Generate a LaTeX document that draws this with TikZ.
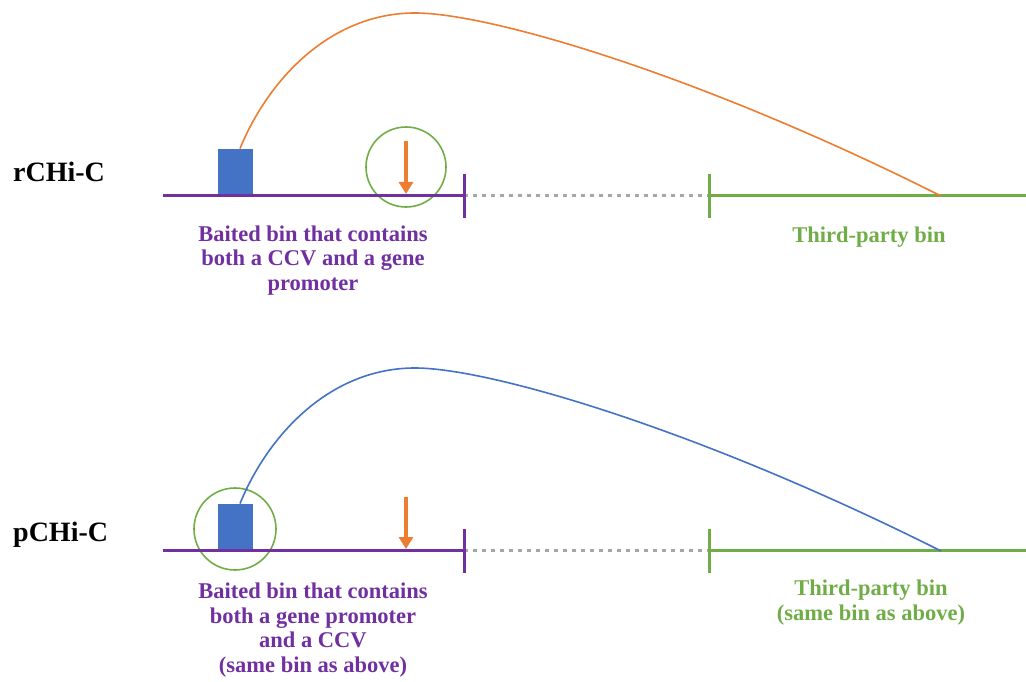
\documentclass[tikz,border=0pt]{standalone}
\usepackage{fontspec}
\setmainfont{Liberation Serif}
\usetikzlibrary{arrows.meta,calc}
\definecolor{binpurple}{HTML}{7030A0}
\definecolor{bingreen}{HTML}{70AD47}
\definecolor{ccvorange}{HTML}{ED7D31}
\definecolor{promblue}{HTML}{4472C4}
\definecolor{gapgray}{HTML}{A6A6A6}
\begin{document}
\begin{tikzpicture}[x=1pt,y=-1pt,
  baitline/.style={binpurple,line width=3.8pt},
  thirdline/.style={bingreen,line width=3.8pt},
  tickmark/.style={line width=3pt},
  gapline/.style={gapgray,line width=3.5pt,dash pattern=on 3.5pt off 5.5pt},
  promoter/.style={fill=promblue,draw=none,minimum width=35pt,minimum height=45pt,inner sep=0pt,anchor=south},
  focus/.style={circle,draw=bingreen,line width=1.6pt,minimum size=80pt,inner sep=0pt},
  ccv/.style={ccvorange,line width=4.5pt,-{Triangle[width=14pt,length=12pt]}},
  rowlabel/.style={font=\fontsize{28}{30}\selectfont\bfseries,anchor=base west,inner sep=0pt},
  % multi-line labels are anchored at the baseline of their last line
  binlabel/.style={font=\fontsize{22.5}{24.5}\selectfont\bfseries,align=center,anchor=base,inner sep=0pt},
  contact/.style={line width=1.6pt}
]
\useasboundingbox (0,0) rectangle (1026,682);

% ---------- rCHi-C row ----------
\node[rowlabel] (r1) at (13,182) {rCHi-C};
\node[focus] (c1) at (406,167) {};
\coordinate (a1) at (163,195.5);
\coordinate (b1) at (464,195.5);
\coordinate (b1t) at (464,174);
\coordinate (b1b) at (464,218);
\coordinate (g1) at (709,195.5);
\coordinate (g1t) at (709,174);
\coordinate (g1b) at (709,218);
\coordinate (e1) at (1026,195.5);
\coordinate (t1) at (941,196);
\draw[gapline] (b1) -- (g1);
\draw[baitline] (a1) -- (b1);
\draw[binpurple,tickmark] (b1t) -- (b1b);
\draw[thirdline] (g1) -- (e1);
\draw[bingreen,tickmark] (g1t) -- (g1b);
\node[promoter] (p1) at (235.5,194) {};
\coordinate (v1t) at (406,141);
\coordinate (v1) at (406,194);
\draw[ccv] (v1t) -- (v1);
\draw[contact,ccvorange] ($(p1.north)+(4.5,0)$) .. controls (268,80) and (330,13) .. (415,13)
  .. controls (490,13) and (700,75) .. (t1);
\node[binlabel,binpurple] (l1) at (313,290) {Baited bin that contains\\both a CCV and a gene\\promoter};
\node[binlabel,bingreen] (l1g) at (869,242) {Third-party bin};

% ---------- pCHi-C row ----------
\node[rowlabel] (r2) at (13,541) {pCHi-C};
\node[focus,minimum size=82pt] (c2) at (235,529) {};
\coordinate (a2) at (163,550.5);
\coordinate (b2) at (464,550.5);
\coordinate (b2t) at (464,529);
\coordinate (b2b) at (464,573);
\coordinate (g2) at (709,550.5);
\coordinate (g2t) at (709,529);
\coordinate (g2b) at (709,573);
\coordinate (e2) at (1026,550.5);
\coordinate (t2) at (941,551);
\draw[gapline] (b2) -- (g2);
\draw[baitline] (a2) -- (b2);
\draw[binpurple,tickmark] (b2t) -- (b2b);
\draw[thirdline] (g2) -- (e2);
\draw[bingreen,tickmark] (g2t) -- (g2b);
\node[promoter] (p2) at (235.5,549) {};
\coordinate (v2t) at (406,497);
\coordinate (v2) at (406,549);
\draw[ccv] (v2t) -- (v2);
\draw[contact,promblue] ($(p2.north)+(4.5,0)$) .. controls (268,435) and (330,368) .. (415,368)
  .. controls (490,368) and (700,430) .. (t2);
\node[binlabel,binpurple] (l2) at (313,672) {Baited bin that contains\\both a gene promoter\\and a CCV\\(same bin as above)};
\node[binlabel,bingreen] (l2g) at (871,620) {Third-party bin\\(same bin as above)};
\end{tikzpicture}
\end{document}
